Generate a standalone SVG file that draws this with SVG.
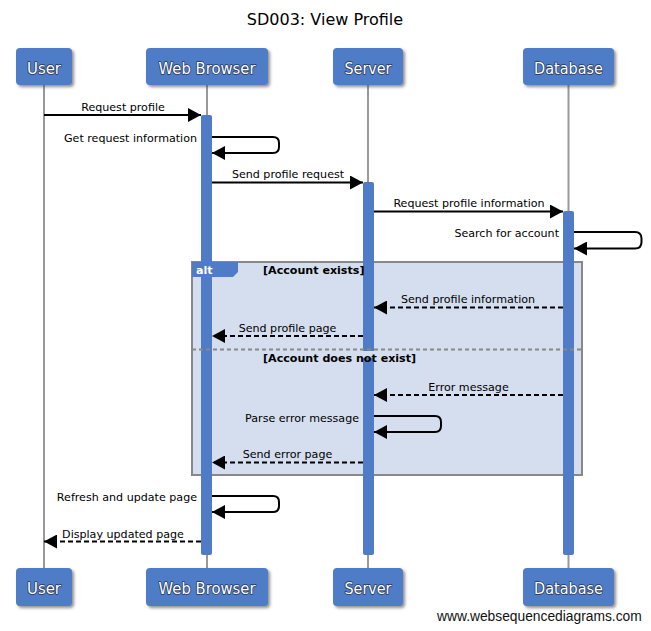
<svg xmlns="http://www.w3.org/2000/svg" width="651" height="631" viewBox="0 0 651 631">
<style>
.lbl{font-family:"DejaVu Sans",sans-serif;font-size:11.1px;fill:#000}
.blbl{font-family:"DejaVu Sans",sans-serif;font-size:11.1px;font-weight:bold;fill:#000}
.pbox{fill:#4f7bc7;filter:url(#sh)}
.ptxt{font-family:"DejaVu Sans",sans-serif;font-size:16px;fill:#fff;stroke:#23375c;stroke-width:1.6px;paint-order:stroke;stroke-linejoin:round;text-anchor:middle}
.life{stroke:#999;stroke-width:2}
.bar{fill:#4f7bc7}
.msg{stroke:#000;stroke-width:2;fill:none;marker-end:url(#arr)}
.dash{stroke-dasharray:5,3}
</style>
<defs>
<filter id="sh" x="-20%" y="-20%" width="150%" height="150%">
<feDropShadow dx="2" dy="2" stdDeviation="1.5" flood-color="#444" flood-opacity="0.6"/>
</filter>
<marker id="arr" markerUnits="userSpaceOnUse" markerWidth="13" markerHeight="14" refX="13" refY="7" orient="auto">
<path d="M0,0 L13,7 L0,14 Z" fill="#000"/>
</marker>
</defs>
<rect width="651" height="631" fill="#fff"/>
<text x="325" y="25" font-family="DejaVu Sans,sans-serif" font-size="16" text-anchor="middle" fill="#000">SD003: View Profile</text>

<g id="lifelines">
<line class="life" x1="44" y1="85" x2="44" y2="568"/>
<line class="life" x1="207" y1="85" x2="207" y2="568"/>
<line class="life" x1="368" y1="85" x2="368" y2="568"/>
<line class="life" x1="568.5" y1="85" x2="568.5" y2="568"/>
</g>

<g id="alt">
<rect x="192" y="262" width="390" height="213" fill="#d5deef" stroke="#888" stroke-width="2"/>
</g>

<g id="activations">
<rect class="bar" x="201" y="115" width="11" height="440" rx="2"/>
<rect class="bar" x="363" y="182" width="11" height="373" rx="2"/>
<rect class="bar" x="563" y="211" width="11" height="344" rx="2"/>
</g>

<g id="alt-labels">
<path d="M192,262 H238 V272 L233,277 H192 Z" fill="#4f7bc7"/>
<text x="196" y="274" font-family="DejaVu Sans,sans-serif" font-size="11.1" font-weight="bold" fill="#fff">alt</text>
<text class="blbl" x="263" y="274">[Account exists]</text>
<line x1="192" y1="349.5" x2="582" y2="349.5" stroke="#888" stroke-width="2" stroke-dasharray="4,3"/>
<rect x="262" y="351" width="152" height="7" fill="#d5deef"/>
<text class="blbl" x="263" y="362">[Account does not exist]</text>
</g>

<g id="connectors">
<line class="msg" x1="44" y1="115" x2="201" y2="115"/>
<path class="msg" d="M212,137 H273 Q279,137 279,143 V147 Q279,153 273,153 H212"/>
<line class="msg" x1="212" y1="182.5" x2="363" y2="182.5"/>
<line class="msg" x1="374" y1="211.5" x2="563" y2="211.5"/>
<path class="msg" d="M574,232 H635 Q641.5,232 641.5,238.5 V242 Q641.5,248.5 635,248.5 H574"/>
<line class="msg dash" x1="563" y1="307.5" x2="374" y2="307.5"/>
<line class="msg dash" x1="363" y1="336" x2="212" y2="336"/>
<line class="msg dash" x1="563" y1="395" x2="374" y2="395"/>
<path class="msg" d="M374,416 H435 Q441,416 441,422 V426 Q441,432 435,432 H374"/>
<line class="msg dash" x1="363" y1="462.5" x2="212" y2="462.5"/>
<path class="msg" d="M212,496 H273 Q279,496 279,502 V506 Q279,512 273,512 H212"/>
<line class="msg dash" x1="201" y1="541.5" x2="44" y2="541.5"/>
</g>

<g id="labels">
<text class="lbl" x="123" y="111" text-anchor="middle">Request profile</text>
<text class="lbl" x="197" y="142" text-anchor="end">Get request information</text>
<text class="lbl" x="288" y="178" text-anchor="middle">Send profile request</text>
<text class="lbl" x="469" y="207" text-anchor="middle">Request profile information</text>
<text class="lbl" x="559" y="237" text-anchor="end">Search for account</text>
<text class="lbl" x="468" y="303" text-anchor="middle">Send profile information</text>
<text class="lbl" x="287.5" y="332" text-anchor="middle">Send profile page</text>
<text class="lbl" x="468.5" y="391" text-anchor="middle">Error message</text>
<text class="lbl" x="359" y="421.5" text-anchor="end">Parse error message</text>
<text class="lbl" x="287.5" y="458" text-anchor="middle">Send error page</text>
<text class="lbl" x="197" y="501" text-anchor="end">Refresh and update page</text>
<text class="lbl" x="123" y="538" text-anchor="middle">Display updated page</text>
</g>

<g id="user">
<rect class="pbox" x="16" y="48" width="56" height="37" rx="4"/>
<text class="ptxt" x="44" y="73.5" textLength="34" lengthAdjust="spacingAndGlyphs">User</text>
<rect class="pbox" x="16" y="568" width="56" height="38" rx="4"/>
<text class="ptxt" x="44" y="593.5" textLength="34" lengthAdjust="spacingAndGlyphs">User</text>
</g>
<g id="webbrowser">
<rect class="pbox" x="146" y="48" width="122" height="37" rx="4"/>
<text class="ptxt" x="207" y="73.5" textLength="97" lengthAdjust="spacingAndGlyphs">Web Browser</text>
<rect class="pbox" x="146" y="568" width="122" height="38" rx="4"/>
<text class="ptxt" x="207" y="593.5" textLength="97" lengthAdjust="spacingAndGlyphs">Web Browser</text>
</g>
<g id="server">
<rect class="pbox" x="333" y="48" width="70" height="37" rx="4"/>
<text class="ptxt" x="368" y="73.5" textLength="47" lengthAdjust="spacingAndGlyphs">Server</text>
<rect class="pbox" x="333" y="568" width="70" height="38" rx="4"/>
<text class="ptxt" x="368" y="593.5" textLength="47" lengthAdjust="spacingAndGlyphs">Server</text>
</g>
<g id="database">
<rect class="pbox" x="523" y="48" width="91" height="37" rx="4"/>
<text class="ptxt" x="568.5" y="73.5" textLength="69" lengthAdjust="spacingAndGlyphs">Database</text>
<rect class="pbox" x="523" y="568" width="91" height="38" rx="4"/>
<text class="ptxt" x="568.5" y="593.5" textLength="69" lengthAdjust="spacingAndGlyphs">Database</text>
</g>

<text x="437" y="621" font-family="Liberation Sans,Arial,sans-serif" font-size="13.8" fill="#111">www.websequencediagrams.com</text>
</svg>
